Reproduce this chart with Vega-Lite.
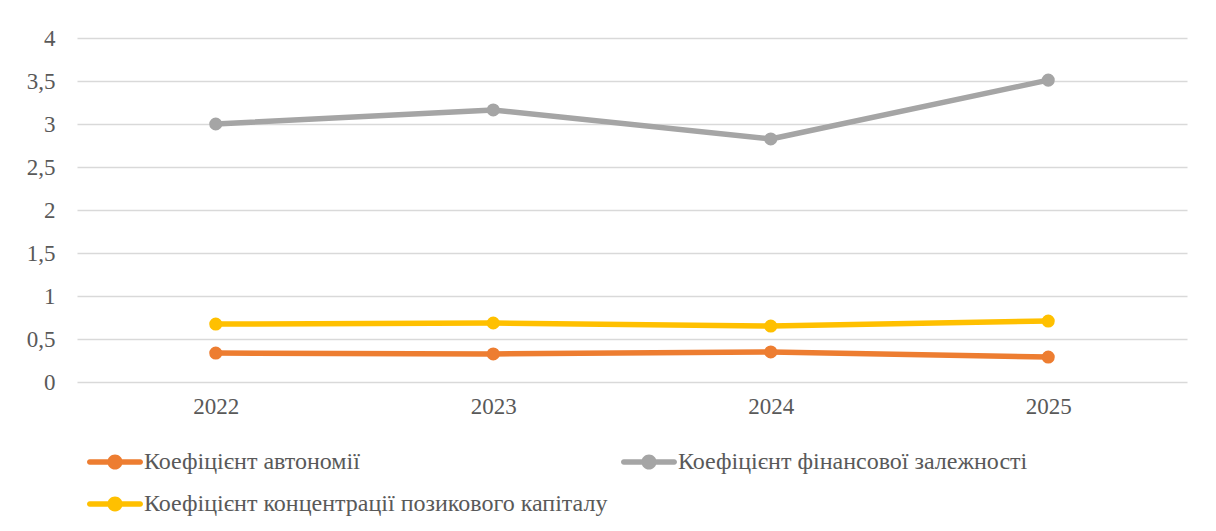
{
  "$schema": "https://vega.github.io/schema/vega-lite/v6.json",
  "autosize": "none",
  "width": 1110,
  "height": 344,
  "padding": {"left": 77, "top": 38, "right": 29, "bottom": 149},
  "background": "white",
  "config": {
    "view": {"stroke": null},
    "font": "Liberation Serif"
  },
  "data": {
    "values": [
      {"year": "2022", "series": "Коефіцієнт автономії", "value": 0.337},
      {"year": "2023", "series": "Коефіцієнт автономії", "value": 0.326},
      {"year": "2024", "series": "Коефіцієнт автономії", "value": 0.349},
      {"year": "2025", "series": "Коефіцієнт автономії", "value": 0.29},
      {"year": "2022", "series": "Коефіцієнт фінансової залежності", "value": 3.0},
      {"year": "2023", "series": "Коефіцієнт фінансової залежності", "value": 3.163},
      {"year": "2024", "series": "Коефіцієнт фінансової залежності", "value": 2.826},
      {"year": "2025", "series": "Коефіцієнт фінансової залежності", "value": 3.51},
      {"year": "2022", "series": "Коефіцієнт концентрації позикового капіталу", "value": 0.674},
      {"year": "2023", "series": "Коефіцієнт концентрації позикового капіталу", "value": 0.686},
      {"year": "2024", "series": "Коефіцієнт концентрації позикового капіталу", "value": 0.651},
      {"year": "2025", "series": "Коефіцієнт концентрації позикового капіталу", "value": 0.709}
    ]
  },
  "mark": {
    "type": "line",
    "strokeWidth": 5.5,
    "strokeCap": "round",
    "strokeJoin": "round",
    "point": {"filled": true, "size": 170, "opacity": 1}
  },
  "encoding": {
    "x": {
      "field": "year",
      "type": "ordinal",
      "scale": {"type": "point", "padding": 0.5},
      "axis": {
        "title": null,
        "labelAngle": 0,
        "domain": false,
        "ticks": false,
        "grid": false,
        "labelFont": "Liberation Serif",
        "labelFontSize": 23,
        "labelColor": "#595959",
        "labelPadding": 13
      }
    },
    "y": {
      "field": "value",
      "type": "quantitative",
      "scale": {"domain": [0, 4], "nice": false},
      "axis": {
        "title": null,
        "values": [0, 0.5, 1, 1.5, 2, 2.5, 3, 3.5, 4],
        "labelExpr": "replace(format(datum.value, '~g'), '.', ',')",
        "domain": false,
        "ticks": false,
        "grid": true,
        "gridColor": "#d9d9d9",
        "gridWidth": 1.3,
        "labelFont": "Liberation Serif",
        "labelFontSize": 23,
        "labelColor": "#595959",
        "labelPadding": 22
      }
    },
    "color": {
      "field": "series",
      "type": "nominal",
      "scale": {
        "domain": ["Коефіцієнт автономії", "Коефіцієнт фінансової залежності", "Коефіцієнт концентрації позикового капіталу"],
        "range": ["#ED7D31", "#A5A5A5", "#FFC000"]
      },
      "legend": {
        "title": null,
        "orient": "none",
        "legendX": 10,
        "legendY": 396,
        "direction": "horizontal",
        "columns": 2,
        "columnPadding": 13,
        "rowPadding": 2,
        "labelFont": "Liberation Serif",
        "labelFontSize": 24,
        "labelColor": "#595959",
        "labelLimit": 0,
        "labelOffset": 1,
        "symbolSize": 3136,
        "symbolType": "M-0.9,-0.1 L0.9,-0.1 A0.1,0.1 0 0,1 0.9,0.1 L-0.9,0.1 A0.1,0.1 0 0,1 -0.9,-0.1 Z M0.27,0 A0.27,0.27 0 1,1 -0.27,0 A0.27,0.27 0 1,1 0.27,0 Z",
        "symbolStrokeWidth": 0,
        "symbolOpacity": 1,
        "encode": {
          "symbols": {
            "update": {
              "fill": {"scale": "color", "field": "value"},
              "strokeWidth": {"value": 0},
              "opacity": {"value": 1}
            }
          }
        }
      }
    }
  }
}
